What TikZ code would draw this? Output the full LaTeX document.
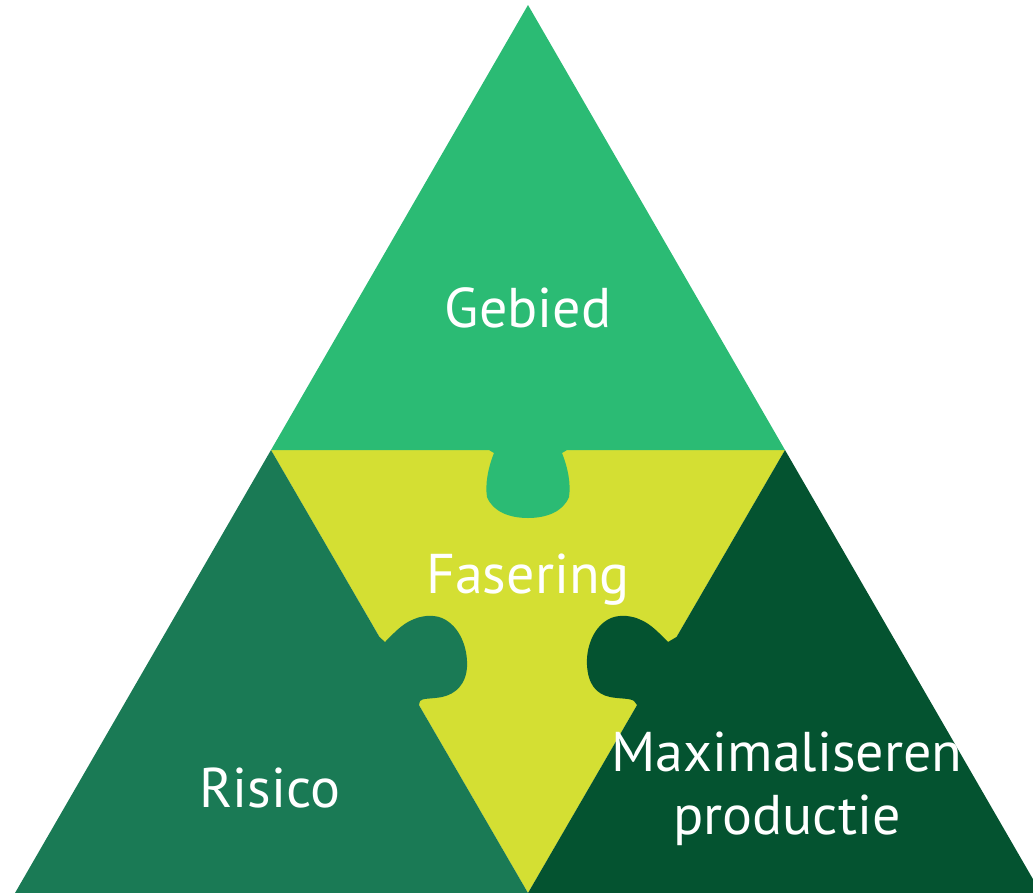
\documentclass[tikz,border=0pt]{standalone}
\usepackage{fontspec}
\setmainfont{PT Sans}
\usetikzlibrary{calc}
\definecolor{gebiedgreen}{RGB}{43,187,116}
\definecolor{risicogreen}{RGB}{26,122,85}
\definecolor{productiegreen}{RGB}{4,83,48}
\definecolor{faseringyellow}{RGB}{212,223,51}
\tikzset{every picture/.style={line width=0.75pt}}
\tikzset{piecelabel/.style={text=white,font=\fontsize{42}{47}\selectfont,align=center,inner sep=0pt}}

\begin{document}
\begin{tikzpicture}[x=0.75pt,y=0.75pt,yscale=-1,xscale=1]
        \useasboundingbox (0,0) rectangle (1033,893);
        \clip (0,0) rectangle (1033,893);
        % corner points of the pieces
        \coordinate (apex) at (528,5);
        \coordinate (midL) at (271,450);
        \coordinate (midR) at (785,450);
        \coordinate (botL) at (15,893);
        \coordinate (botM) at (528,893);
        \coordinate (botR) at (1041,893);
        % middle piece
        \fill [faseringyellow] (midL) -- (midR) -- (botM) -- cycle ;
        % top piece with its knob
        \fill [gebiedgreen] (apex) -- (midL) -- (489,450) -- (494,453) .. controls (488,468) and (485,484) .. (487,497) .. controls (493,512) and (510,518) .. (528,518) .. controls (546,518) and (563,512) .. (569,497) .. controls (571,484) and (568,468) .. (562,453) -- (567,450) -- (midR) -- cycle ;
        % left piece with its knob
        \fill [risicogreen] (midL) -- ($(midL)!0.4221!(botM)$) -- (385,642) .. controls (393,634) and (402,624) .. (412,620) .. controls (420,616) and (432,614) .. (442,618) .. controls (460,626) and (468,648) .. (467,667) .. controls (466,684) and (456,694) .. (442,697) .. controls (432,699) and (422,698) .. (420,701) -- ($(midL)!0.5756!(botM)$) -- (botM) -- (botL) -- cycle ;
        % right piece with its knob
        \fill [productiegreen] (midR) -- ($(midR)!0.4221!(botM)$) -- (668,642) .. controls (660,634) and (651,624) .. (641,620) .. controls (633,616) and (621,614) .. (611,618) .. controls (593,626) and (586,648) .. (587,665) .. controls (588,684) and (596,694) .. (610,697) .. controls (620,699) and (630,698) .. (634,701) -- ($(midR)!0.5756!(botM)$) -- (botM) -- (botR) -- cycle ;
        % labels
        \node [piecelabel] (gebied) at (528,308) {Gebied};
        \node [piecelabel] (fasering) at (528,580) {Fasering};
        \node [piecelabel] (risico) at (270,788) {Risico};
        \node [piecelabel] (productie) at (787,789) {Maximaliseren\\productie};
\end{tikzpicture}
\end{document}
